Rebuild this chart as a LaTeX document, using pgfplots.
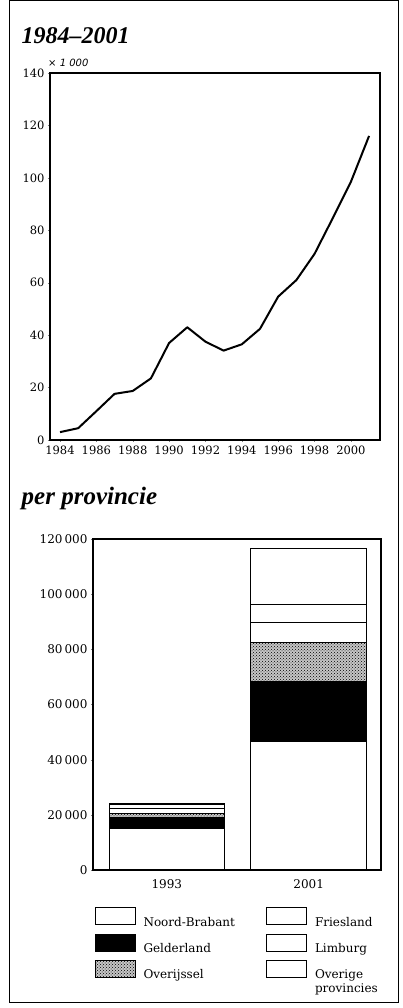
\documentclass[border=0pt]{standalone}
\usepackage{fontspec}
\setmainfont{DejaVu Serif}
\setsansfont{DejaVu Sans}
\newfontfamily\titlefont{Liberation Serif}
\usepackage{pgfplots}
\pgfplotsset{compat=1.18}
\usetikzlibrary{patterns}
\tikzset{overijssel/.style={fill=gray!45, postaction={pattern=crosshatch dots}}}
\begin{document}
\begin{tikzpicture}
\useasboundingbox (0pt,0pt) rectangle (402pt,1008pt);
\draw[line width=1pt] (9pt,5pt) rectangle (398pt,1007pt);
\node[anchor=base west, inner sep=0pt, font=\titlefont\fontsize{24}{26}\selectfont\bfseries\itshape] at (21.5pt,964.7pt) {1984–2001};
\node[anchor=base west, inner sep=0pt, font=\titlefont\fontsize{25}{27}\selectfont\bfseries\itshape] at (21.5pt,503pt) {per provincie};
\node[anchor=base west, inner sep=0pt, font=\sffamily\itshape\fontsize{10}{12}\selectfont] at (48pt,941.3pt) {× 1 000};

% line chart
\begin{axis}[
  at={(50pt,568pt)}, anchor=south west, scale only axis,
  width=330pt, height=367pt,
  xmin=1983.45, xmax=2001.6, ymin=0, ymax=140,
  xtick={1984,1986,...,2000}, ytick={0,20,...,140},
  xticklabel style={/pgf/number format/1000 sep=},
  /pgf/number format/assume math mode=true,
  tick label style={font=\fontsize{11.5}{12}\selectfont},
  tick align=outside, major tick length=2pt,
  xtick pos=bottom, ytick pos=left,
  axis line style={line width=1.1pt},
]
\addplot[line width=2pt, black, line join=round] coordinates {
(1984,3) (1985,4.5) (1986,11) (1987,17.6) (1988,18.7) (1989,23.5)
(1990,37) (1991,43) (1992,37.5) (1993,34.1) (1994,36.5) (1995,42.4)
(1996,54.7) (1997,61) (1998,71) (1999,84.6) (2000,98.5) (2001,116)
};
\end{axis}

% stacked bars
\begin{axis}[
  at={(93pt,138pt)}, anchor=south west, scale only axis,
  width=288pt, height=331pt,
  ybar stacked, bar width=0.814,
  xmin=-0.52, xmax=1.51, ymin=0, ymax=120000,
  xtick={0,1}, xticklabels={1993,2001},
  ytick={0,20000,40000,60000,80000,100000,120000},
  scaled y ticks=false,
  yticklabel style={/pgf/number format/.cd, fixed, 1000 sep={\,}},
  xticklabel style={yshift=-4pt},
  /pgf/number format/assume math mode=true,
  tick label style={font=\fontsize{12}{13}\selectfont},
  xtick style={draw=none},
  tick align=outside, major tick length=2pt, ytick pos=left,
  axis line style={line width=1.1pt},
]
\addplot[fill=white, draw=black, line width=1pt] coordinates {(0,15100) (1,46600)};
\addplot[fill=black, draw=black, line width=1pt] coordinates {(0,4000) (1,21700)};
\addplot[overijssel, draw=black, line width=1pt] coordinates {(0,1500) (1,14000)};
\addplot[fill=white, draw=black, line width=1pt] coordinates {(0,1800) (1,7500)};
\addplot[fill=white, draw=black, line width=1pt] coordinates {(0,1200) (1,6400)};
\addplot[fill=white, draw=black, line width=1pt] coordinates {(0,600) (1,20200)};
\end{axis}

% legend
\begin{axis}[
  at={(94.5pt,100.5pt)}, anchor=north west, scale only axis,
  width=280pt, height=80pt, hide axis,
  xmin=0, xmax=1, ymin=0, ymax=1,
  legend columns=3, transpose legend,
  legend cell align=left,
  legend image code/.code={\draw[#1] (0pt,-2pt) rectangle (40pt,15pt);},
  legend style={at={(0,1)}, anchor=north west, draw=none, fill=none,
    inner sep=0pt, outer sep=0pt, row sep=4pt,
    font=\fontsize{12}{14}\selectfont,
    nodes={inner sep=0pt, text height=10pt, text depth=3.5pt},
    /tikz/every odd column/.append style={column sep=8pt},
    /tikz/every even column/.append style={column sep=31pt}},
]
\addlegendimage{fill=white, draw=black, line width=1pt}
\addlegendentry{Noord-Brabant}
\addlegendimage{fill=black, draw=black, line width=1pt}
\addlegendentry{Gelderland}
\addlegendimage{overijssel, draw=black, line width=1pt}
\addlegendentry{Overijssel}
\addlegendimage{fill=white, draw=black, line width=1pt}
\addlegendentry{Friesland}
\addlegendimage{fill=white, draw=black, line width=1pt}
\addlegendentry{Limburg}
\addlegendimage{fill=white, draw=black, line width=1pt}
\addlegendentry{\begin{tabular}[t]{@{}l@{}}Overige\\provincies\end{tabular}}
\end{axis}
\end{tikzpicture}
\end{document}
